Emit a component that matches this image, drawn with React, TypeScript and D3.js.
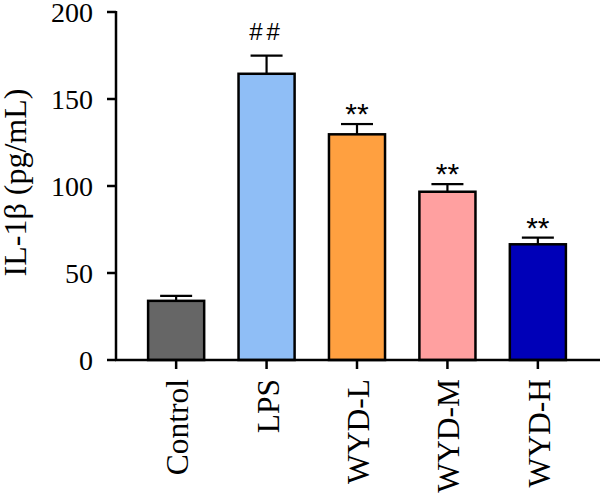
import * as d3 from "d3";

const categories = ["Control", "LPS", "WYD-L", "WYD-M", "WYD-H"];
const means = [34, 164.5, 129.7, 96.7, 66.5];
const errors = [2.8, 10.4, 5.9, 4.4, 3.8];
const marks = ["", "##", "**", "**", "**"];
const colors = ["#666666", "#8fbef6", "#ffa040", "#ffa0a0", "#0000b8"];
const yTicks = [0, 50, 100, 150, 200];

const W = 600;
const H = 495;
const serif = "'Liberation Serif', 'Times New Roman', serif";
const sans = "'Liberation Sans', Arial, sans-serif";

export default function App() {
  const axisX = 116;
  const y = d3.scaleLinear().domain([0, 200]).range([360, 12]);
  const x = d3
    .scaleBand<string>()
    .domain(categories)
    .range([axisX, 598])
    .paddingInner(0.38)
    .paddingOuter(0.355);
  const bw = x.bandwidth();
  const capHalf = 16;

  return (
    <svg
      width={W}
      height={H}
      style={{ position: "absolute", left: 0, top: 0, background: "#fff" }}
    >
      {/* bars with upper error bars */}
      {categories.map((c, i) => {
        const cx = (x(c) ?? 0) + bw / 2;
        const top = y(means[i]);
        const capY = y(means[i] + errors[i]);
        return (
          <g key={c}>
            <line x1={cx} x2={cx} y1={top} y2={capY} stroke="#000" strokeWidth={2.2} />
            <line
              x1={cx - capHalf}
              x2={cx + capHalf}
              y1={capY}
              y2={capY}
              stroke="#000"
              strokeWidth={2.2}
            />
            <rect
              x={x(c)}
              y={top}
              width={bw}
              height={y(0) - top}
              fill={colors[i]}
              stroke="#000"
              strokeWidth={2.5}
            />
            {marks[i] === "##" && (
              <text
                x={cx}
                y={capY - 15.5}
                textAnchor="middle"
                fontFamily={sans}
                fontSize={24}
                letterSpacing={4}
                fill="#000"
              >
                {marks[i]}
              </text>
            )}
            {marks[i] === "**" && (
              <text
                x={cx}
                y={capY}
                textAnchor="middle"
                fontFamily={sans}
                fontSize={30}
                fill="#000"
              >
                {marks[i]}
              </text>
            )}
          </g>
        );
      })}

      {/* y axis */}
      <line x1={axisX} x2={axisX} y1={y(200) - 1} y2={y(0)} stroke="#000" strokeWidth={2.5} />
      {yTicks.map((t) => (
        <g key={t}>
          <line x1={axisX - 9} x2={axisX} y1={y(t)} y2={y(t)} stroke="#000" strokeWidth={2.5} />
          <text
            x={93}
            y={y(t) + 9.5}
            textAnchor="end"
            fontFamily={serif}
            fontSize={28}
            fill="#000"
          >
            {t}
          </text>
        </g>
      ))}

      {/* x axis */}
      <line x1={axisX - 1} x2={W} y1={y(0)} y2={y(0)} stroke="#000" strokeWidth={2.5} />
      {categories.map((c) => {
        const cx = (x(c) ?? 0) + bw / 2;
        return (
          <g key={c}>
            <line x1={cx} x2={cx} y1={y(0)} y2={y(0) + 9} stroke="#000" strokeWidth={2.5} />
            <text
              transform={`translate(${cx + 12},379) rotate(-90)`}
              textAnchor="end"
              fontFamily={serif}
              fontSize={31.5}
              fill="#000"
            >
              {c}
            </text>
          </g>
        );
      })}

      {/* y label */}
      <text
        transform="translate(25.5,182.5) rotate(-90)"
        textAnchor="middle"
        fontFamily={serif}
        fontSize={32}
        fill="#000"
      >
        IL-1β (pg/mL)
      </text>
    </svg>
  );
}
